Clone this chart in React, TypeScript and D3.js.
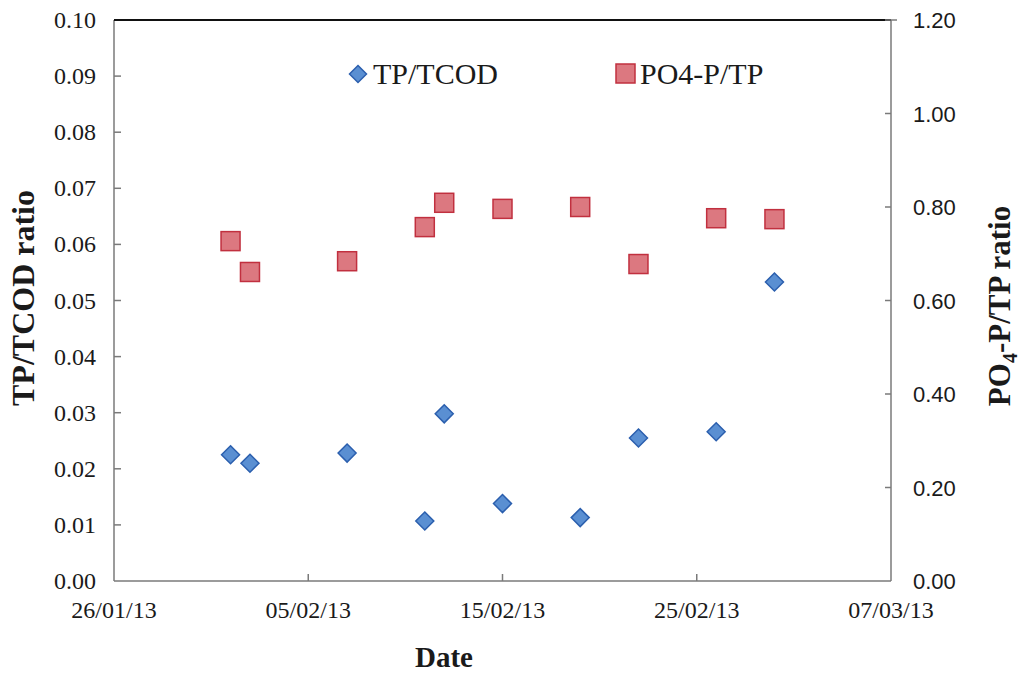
import React from "react";
import * as d3 from "d3";

const dates = ["2013-02-01","2013-02-02","2013-02-07","2013-02-11","2013-02-12","2013-02-15","2013-02-19","2013-02-22","2013-02-26","2013-03-01"];
const tpTcod = [0.0225, 0.0210, 0.0228, 0.0107, 0.0298, 0.0138, 0.0113, 0.0255, 0.0266, 0.0533];
const po4Tp = [0.727, 0.661, 0.684, 0.757, 0.809, 0.796, 0.800, 0.678, 0.776, 0.774];
const xTicks = ["2013-01-26","2013-02-05","2013-02-15","2013-02-25","2013-03-07"];
const leftTicks = [0, 0.01, 0.02, 0.03, 0.04, 0.05, 0.06, 0.07, 0.08, 0.09, 0.10];
const rightTicks = [0, 0.2, 0.4, 0.6, 0.8, 1.0, 1.2];

const W = 1021, H = 673;
const L = 114, R = 891, T = 20, B = 581;
const parse = (s: string) => new Date(s + "T00:00:00Z");
const fmtDate = d3.utcFormat("%d/%m/%y");

const blueFill = "#5a8fd2", blueStroke = "#2b5fae";
const redFill = "#dc7880", redStroke = "#c1303f";

export default function App() {
  const x = d3.scaleUtc().domain([parse(xTicks[0]), parse(xTicks[xTicks.length - 1])]).range([L, R]);
  const yL = d3.scaleLinear().domain([0, 0.1]).range([B, T]);
  const yR = d3.scaleLinear().domain([0, 1.2]).range([B, T]);
  const diamond = (cx: number, cy: number, r = 9) => `M${cx},${cy - r}L${cx + r},${cy}L${cx},${cy + r}L${cx - r},${cy}Z`;
  const serif = "'Liberation Serif', 'Times New Roman', serif";
  const sans = "'Liberation Sans', Arial, sans-serif";
  const axisColor = "#7a7a7a";
  const textColor = "#1a1a1a";
  return (
    <svg width={W} height={H} style={{ position: "absolute", left: 0, top: 0, background: "#fff" }}>
      <rect x={0} y={0} width={W} height={H} fill="#fff" />
      {/* axes */}
      <line x1={L} y1={T} x2={L} y2={B} stroke={axisColor} strokeWidth={1.5} />
      <line x1={R} y1={T} x2={R} y2={B} stroke={axisColor} strokeWidth={1.5} />
      <line x1={L} y1={B} x2={R} y2={B} stroke={axisColor} strokeWidth={1.5} />
      <line x1={L} y1={T} x2={R} y2={T} stroke="#111" strokeWidth={2} />
      {leftTicks.map((t, i) => (
        <g key={"l" + i}>
          {i > 0 && i < leftTicks.length - 1 && <line x1={L} x2={L + 7} y1={yL(t)} y2={yL(t)} stroke={axisColor} strokeWidth={1.5} />}
          <text x={96} y={yL(t) + 8} textAnchor="end" fontFamily={serif} fontSize={24} fill={textColor}>{t.toFixed(2)}</text>
        </g>
      ))}
      {rightTicks.map((t, i) => (
        <g key={"r" + i}>
          {i > 0 && <line x1={R - 6} x2={R + 6 * (i === rightTicks.length - 1 ? 1 : 0)} y1={yR(t)} y2={yR(t)} stroke={axisColor} strokeWidth={1.5} />}
          <text x={913} y={yR(t) + 8} textAnchor="start" fontFamily={sans} fontSize={22} fill={textColor}>{t.toFixed(2)}</text>
        </g>
      ))}
      {xTicks.map((s, i) => (
        <g key={"x" + i}>
          {i > 0 && i < xTicks.length - 1 && <line x1={x(parse(s))} x2={x(parse(s))} y1={B} y2={B - 7} stroke={axisColor} strokeWidth={1.5} />}
          <text x={x(parse(s))} y={618} textAnchor="middle" fontFamily={serif} fontSize={24} fill={textColor}>{fmtDate(parse(s))}</text>
        </g>
      ))}
      {/* axis titles */}
      <text x={444} y={667} textAnchor="middle" fontFamily={serif} fontSize={29} fontWeight="bold" fill={textColor}>Date</text>
      <text transform="translate(34,298) rotate(-90)" textAnchor="middle" fontFamily={serif} fontSize={32} fontWeight="bold" fill={textColor}>TP/TCOD ratio</text>
      <text transform="translate(1010,306) rotate(-90)" textAnchor="middle" fontFamily={serif} fontSize={31} fontWeight="bold" fill={textColor}>
        PO<tspan fontSize={20} dy={7}>4</tspan><tspan dy={-7}>-P/TP ratio</tspan>
      </text>
      {/* points */}
      {po4Tp.map((v, i) => (
        <rect key={"s" + i} x={x(parse(dates[i])) - 9.5} y={yR(v) - 9.5} width={19} height={19} fill={redFill} stroke={redStroke} strokeWidth={1.5} />
      ))}
      {tpTcod.map((v, i) => (
        <path key={"d" + i} d={diamond(x(parse(dates[i])), yL(v))} fill={blueFill} stroke={blueStroke} strokeWidth={1.5} />
      ))}
      {/* legend */}
      <path d={diamond(358, 74, 8.5)} fill={blueFill} stroke={blueStroke} strokeWidth={1.5} />
      <text x={373} y={84} fontFamily={serif} fontSize={30} fill={textColor}>TP/TCOD</text>
      <rect x={616} y={64} width={19} height={19} fill={redFill} stroke={redStroke} strokeWidth={1.5} />
      <text x={640} y={84} fontFamily={serif} fontSize={30} fill={textColor}>PO4-P/TP</text>
    </svg>
  );
}
